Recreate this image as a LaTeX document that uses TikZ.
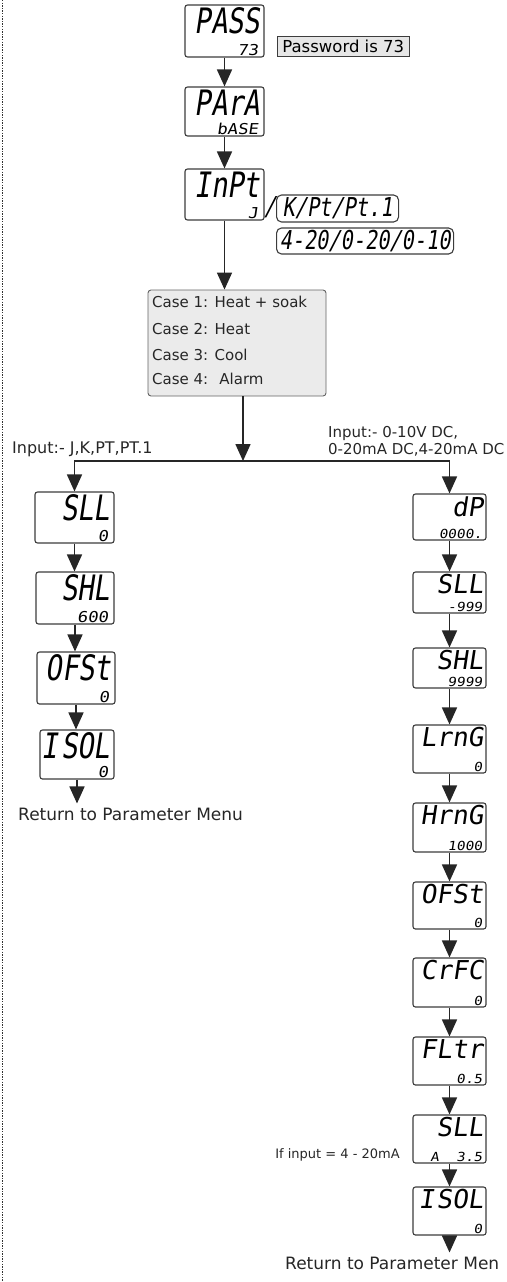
\documentclass[tikz,border=0pt]{standalone}
\usepackage{fontspec}
\setmainfont{DejaVu Sans}
\newfontfamily\segfont[FakeSlant=0.15,FakeStretch=0.78]{DejaVu Sans Mono}
\newfontfamily\segwide[FakeSlant=0.15,FakeStretch=1.0]{DejaVu Sans Mono}
\newfontfamily\segsmall[FakeSlant=0.15,FakeStretch=1.15]{DejaVu Sans Mono}
\usetikzlibrary{arrows.meta}
\definecolor{edge}{HTML}{3C3C3C}
\definecolor{notefill}{HTML}{E6E6E6}
\definecolor{casefill}{HTML}{EBEBEB}

\begin{document}
\begin{tikzpicture}[x=1pt,y=-1pt,
 lcd/.style={draw=edge,line width=1.1pt,rounded corners=2.5pt,fill=white,inner sep=0pt},
 bigseg/.style={font=\segfont\fontsize{35}{35}\selectfont,inner sep=0pt,anchor=north east},
 bigsegr/.style={font=\segwide\fontsize{26}{26}\selectfont,inner sep=0pt,anchor=north east},
 lowseg/.style={font=\segsmall\fontsize{15}{15}\selectfont,inner sep=0pt,anchor=south east},
 lowsegr/.style={font=\segsmall\fontsize{12.5}{12.5}\selectfont,inner sep=0pt,anchor=south east},
 optbox/.style={draw=edge,line width=1.1pt,rounded corners=5pt,anchor=west,inner sep=0pt,font=\segfont\fontsize{26}{26}\selectfont},
 flow/.style={line width=1.6pt,draw=black!85,-{Triangle[length=17pt,width=15pt]}},
 lbl/.style={font=\fontsize{15}{17}\selectfont,inner sep=0pt,text=black!85}]
\useasboundingbox (0,0) rectangle (506,1282);
\draw[line width=1.3pt,dash pattern=on 1.3pt off 1.3pt,black!80] (2.5,0) -- (2.5,1282);

% top chain
\foreach \n/\y/\h/\a/\b in {pass/31/52/PASS/73, para/111.5/49/PArA/bASE, inpt/194.5/51/InPt/J}{
  \node[lcd,minimum width=79,minimum height=\h] (\n) at (224.5,\y) {};
  \node[bigseg] at ([xshift=-4pt,yshift=-3pt]\n.north east) {\a};
  \node[lowseg] at ([xshift=-6pt,yshift=1.5pt]\n.south east) {\b};
}
\node[draw=edge,fill=notefill,line width=0.8pt,font=\fontsize{16.5}{16.5}\selectfont,inner xsep=5pt,inner ysep=0pt,minimum height=20,anchor=west] (note) at (277,46.5) {Password is 73};
\node[font=\segfont\fontsize{26}{26}\selectfont,inner sep=0pt] (slash) at (270,207) {/};
\node[optbox,minimum width=122,minimum height=27] (optA) at (276,208.5) {K/Pt/Pt.1};
\node[optbox,minimum width=177,minimum height=26] (optB) at (276,241) {4-20/0-20/0-10};
\draw[flow] (pass) -- (para);
\draw[flow] (para) -- (inpt);

% control cases
\node[draw=edge!80,fill=casefill,line width=0.9pt,rounded corners=3pt,minimum width=178,minimum height=106] (cases) at (237,343) {};
\foreach \i/\t/\y in {1/Heat + soak/302,2/Heat/329,3/Cool/355,4/{\ Alarm}/379}
  \node[lbl,anchor=west] (case\i) at (152,\y) {Case \i: \t};
\draw[flow] (inpt.south) -- (inpt.south |- cases.north);

\coordinate (split) at (243,461);
\node[lbl,font=\fontsize{16}{17}\selectfont,anchor=west] (inL) at (12,449) {Input:- J,K,PT,PT.1};
\node[lbl,anchor=west,align=left] (inR) at (328,441.5) {Input:- 0-10V DC,\\0-20mA DC,4-20mA DC};

% thermocouple / RTD branch
\foreach \n/\x/\y/\w/\h/\a/\b in {sll/74.5/517.5/79/51/SLL/0, shl/75/598/78/52/SHL/600,
  ofst/76/678/78/52/OFSt/0, isol/77/754.5/74/49/I\kern3pt SOL/0}{
  \node[lcd,minimum width=\w,minimum height=\h] (l\n) at (\x,\y) {};
  \node[bigseg] at ([xshift=-4pt,yshift=-3pt]l\n.north east) {\a};
  \node[lowseg] at ([xshift=-6pt,yshift=1.5pt]l\n.south east) {\b};
}
\foreach \a/\b in {sll/shl,shl/ofst,ofst/isol}
  \draw[flow] (l\a.south) -- (l\a.south |- l\b.north);
\node[lbl,font=\fontsize{17}{17}\selectfont,anchor=west,inner ysep=4pt] (lret) at (18,814) {Return to Parameter Menu};
\draw[flow] (lisol.south) -- (lisol.south |- lret.north);

% linear input branch
\foreach \n/\y/\h/\a/\b in {dp/517/46/dP/0000., sll/592.5/41/SLL/-999, shl/668/40/SHL/9999,
  lrng/749/48/LrnG/0, hrng/827.5/49/HrnG/1000, ofst/905.5/47/OFSt/0, crfc/982.5/49/CrFC/0,
  fltr/1061/48/FLtr/0.5, slla/1139/48/SLL/A~~3.5, isol/1211/48/I\kern2pt SOL/0}{
  \node[lcd,minimum width=73,minimum height=\h] (r\n) at (449.5,\y) {};
  \node[bigsegr] at ([xshift=-3pt,yshift=-3pt]r\n.north east) {\a};
  \node[lowsegr] at ([xshift=-4pt,yshift=1.5pt]r\n.south east) {\b};
}
\foreach \a/\b in {dp/sll,sll/shl,shl/lrng,lrng/hrng,hrng/ofst,ofst/crfc,crfc/fltr,fltr/slla,slla/isol}
  \draw[flow] (r\a) -- (r\b);
\node[lbl,font=\fontsize{13}{15}\selectfont,anchor=east] (cond) at (400,1155) {If input = 4 - 20mA};
\node[lbl,font=\fontsize{17}{17}\selectfont,anchor=west,inner ysep=4pt] (rret) at (285,1263) {Return to Parameter Men};
\draw[flow] (risol.south) -- (risol.south |- rret.north);

\draw[flow] (cases.south -| split) -- (split);
\draw[flow] (split) -| (lsll);
\draw[flow] (split) -| (rdp);
\end{tikzpicture}
\end{document}
